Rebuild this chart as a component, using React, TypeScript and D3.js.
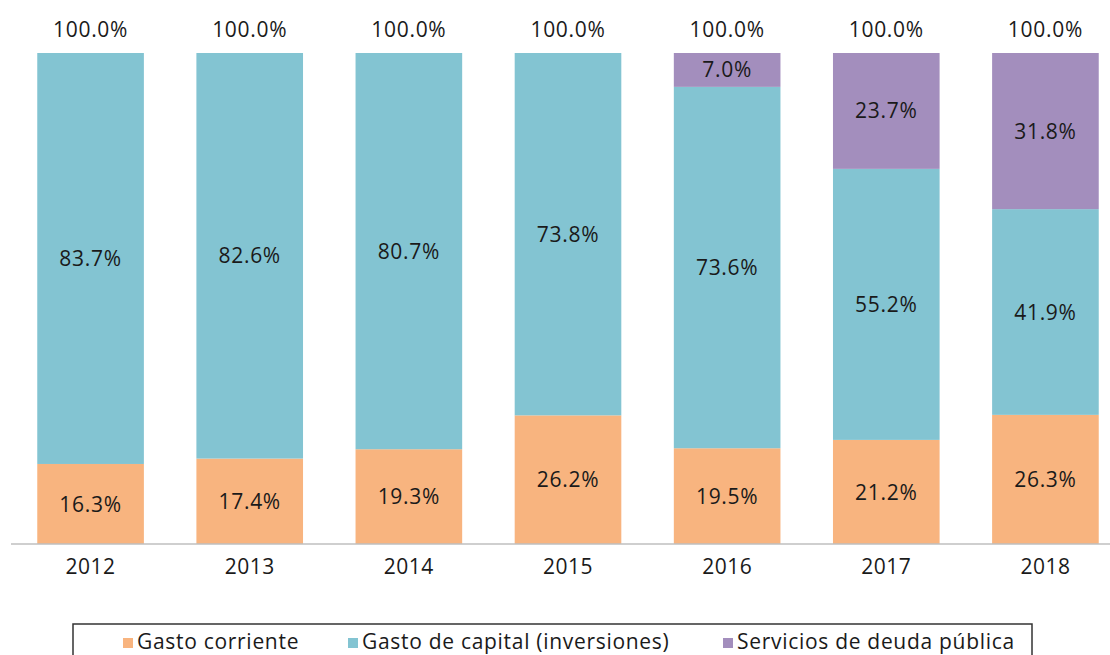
import React from "react";
import * as d3 from "d3";

const years = ["2012", "2013", "2014", "2015", "2016", "2017", "2018"];
const gastoCorriente = [16.3, 17.4, 19.3, 26.2, 19.5, 21.2, 26.3];
const gastoCapital = [83.7, 82.6, 80.7, 73.8, 73.6, 55.2, 41.9];
const deudaPublica = [0, 0, 0, 0, 7.0, 23.7, 31.8];
const totals = [100.0, 100.0, 100.0, 100.0, 100.0, 100.0, 100.0];

const seriesNames = ["Gasto corriente", "Gasto de capital (inversiones)", "Servicios de deuda pública"];
const seriesColors = ["#F8B47F", "#83C4D2", "#A38EBD"];

const W = 1110;
const H = 655;
const FONT = "'Open Sans', Lato, sans-serif";

export default function App() {
  const x = d3.scaleBand<string>().domain(years).range([11, 1125]).paddingInner(0.33).paddingOuter(0.165);
  const y = d3.scaleLinear().domain([0, 100]).range([544, 53]);

  const table = years.map((yr, i) => ({
    year: yr,
    s0: gastoCorriente[i],
    s1: gastoCapital[i],
    s2: deudaPublica[i],
  }));
  const stack = d3.stack<any>().keys(["s0", "s1", "s2"]);
  const layers = stack(table);

  const legendX = [123, 348, 723];

  return (
    <svg width={W} height={H} style={{ position: "absolute", left: 0, top: 0, background: "#fff" }} fontFamily={FONT}>
      {layers.map((layer, li) => (
        <g key={li}>
          {layer.map((d, i) => {
            const v = d[1] - d[0];
            if (v <= 0) return null;
            const top = y(Math.min(d[1], 100));
            const bot = y(d[0]);
            return (
              <g key={i}>
                <rect x={x(years[i])} y={top} width={x.bandwidth()} height={bot - top} fill={seriesColors[li]} />
                <text
                  x={(x(years[i]) as number) + x.bandwidth() / 2}
                  y={(top + bot) / 2}
                  dy="0.36em"
                  textAnchor="middle"
                  fontSize={21}
                  letterSpacing={0.7}
                  fill="#1a1a1a"
                >
                  {v.toFixed(1)}%
                </text>
              </g>
            );
          })}
        </g>
      ))}
      {years.map((yr, i) => (
        <text key={yr} x={(x(yr) as number) + x.bandwidth() / 2} y={y(totals[i]) - 24} dy="0.36em" textAnchor="middle" fontSize={21} letterSpacing={0.7} fill="#1a1a1a">
          {totals[i].toFixed(1)}%
        </text>
      ))}
      <line x1={11} x2={W} y1={544} y2={544} stroke="#bfbfbf" strokeWidth={1.5} />
      {years.map((yr) => (
        <text key={"t" + yr} x={(x(yr) as number) + x.bandwidth() / 2} y={566} dy="0.36em" textAnchor="middle" fontSize={21} letterSpacing={0.5} fill="#1a1a1a">
          {yr}
        </text>
      ))}
      <rect x={73} y={624} width={959} height={40} fill="none" stroke="#333" strokeWidth={1.5} />
      {seriesNames.map((n, i) => (
        <g key={n}>
          <rect x={legendX[i]} y={638} width={10} height={10} fill={seriesColors[i]} />
          <text x={legendX[i] + 14} y={649} fontSize={21} letterSpacing={0.7} fill="#1a1a1a">
            {n}
          </text>
        </g>
      ))}
    </svg>
  );
}
